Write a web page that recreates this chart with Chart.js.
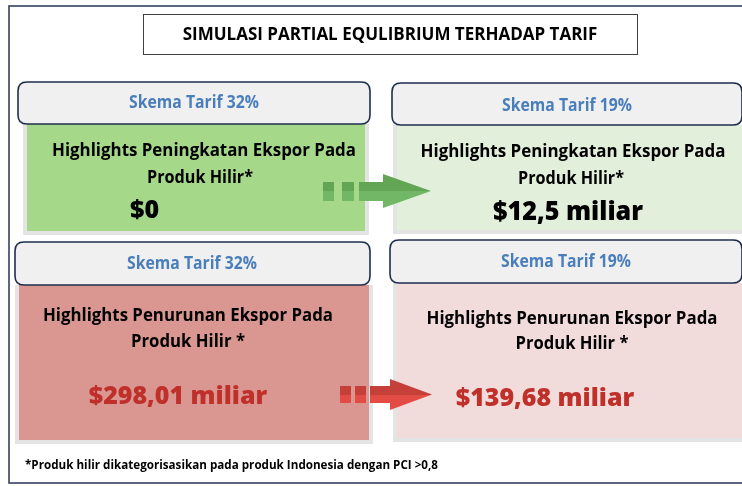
<!DOCTYPE html>
<html>
<head>
<meta charset="utf-8">
<title>Simulasi Partial Equlibrium Terhadap Tarif</title>
<script src="https://cdn.jsdelivr.net/npm/chart.js@4"></script>
<style>
  html, body { margin: 0; padding: 0; background: #ffffff; }
  canvas { display: block; }
</style>
</head>
<body>
<canvas id="chart" width="742" height="486"></canvas>
<script>
// Data
const title = 'SIMULASI PARTIAL EQULIBRIUM TERHADAP TARIF';
const schemes = ['Skema Tarif 32%', 'Skema Tarif 19%'];
const increaseLabel = ['Highlights Peningkatan Ekspor Pada', 'Produk Hilir*'];
const decreaseLabel = ['Highlights Penurunan Ekspor Pada', 'Produk Hilir *'];
const increaseValues = [0, 12.5];        // miliar USD
const decreaseValues = [298.01, 139.68]; // miliar USD
const footnote = '*Produk hilir dikategorisasikan pada produk Indonesia dengan PCI >0,8';

const FONT = '"Open Sans", "Noto Sans", sans-serif';

function formatValue(v) {
  if (v === 0) return '$0';
  return '$' + String(v).replace('.', ',') + ' miliar';
}

function text(ctx, str, x, y, size, color, maxW, align, weight) {
  ctx.font = (weight || 'bold') + ' ' + size + 'px ' + FONT;
  ctx.fillStyle = color;
  ctx.textAlign = align || 'center';
  ctx.textBaseline = 'alphabetic';
  ctx.fillText(str, x, y, maxW);
}

function roundRect(ctx, x, y, w, h, r) {
  ctx.beginPath();
  ctx.moveTo(x + r, y);
  ctx.lineTo(x + w - r, y);
  ctx.quadraticCurveTo(x + w, y, x + w, y + r);
  ctx.lineTo(x + w, y + h - r);
  ctx.quadraticCurveTo(x + w, y + h, x + w - r, y + h);
  ctx.lineTo(x + r, y + h);
  ctx.quadraticCurveTo(x, y + h, x, y + h - r);
  ctx.lineTo(x, y + r);
  ctx.quadraticCurveTo(x, y, x + r, y);
  ctx.closePath();
}

function header(ctx, label, x1, y1, x2, y2, ty, tx, tw) {
  roundRect(ctx, x1, y1, x2 - x1, y2 - y1, 9);
  ctx.fillStyle = '#f0f0f0';
  ctx.fill();
  ctx.lineWidth = 1.6;
  ctx.strokeStyle = '#1f2e4e';
  ctx.stroke();
  text(ctx, label, tx, ty, 17, '#4a7ebb', tw);
}

function panel(ctx, x1, y1, x2, y2, fill) {
  ctx.fillStyle = '#e4e4e4';
  ctx.fillRect(x1 - 4, y1, x2 - x1 + 8, y2 - y1 + 4);
  ctx.fillStyle = fill;
  ctx.fillRect(x1, y1, x2 - x1, y2 - y1);
}

function arrow(ctx, sq, shaft, head, tip, yTop, yBot, hTop, hBot, cTop, cBot) {
  const g = ctx.createLinearGradient(0, hTop, 0, hBot);
  g.addColorStop(0, cTop);
  g.addColorStop(0.5, cTop);
  g.addColorStop(0.5, cBot);
  g.addColorStop(1, cBot);
  ctx.fillStyle = g;
  sq.forEach(function(s) { ctx.fillRect(s[0], yTop, s[1] - s[0], yBot - yTop); });
  ctx.beginPath();
  ctx.moveTo(shaft, yTop);
  ctx.lineTo(head, yTop);
  ctx.lineTo(head, hTop);
  ctx.lineTo(tip, (hTop + hBot) / 2);
  ctx.lineTo(head, hBot);
  ctx.lineTo(head, yBot);
  ctx.lineTo(shaft, yBot);
  ctx.closePath();
  ctx.fill();
}

const infographic = {
  id: 'infographic',
  beforeDraw: function(chart) {
    const ctx = chart.ctx;
    ctx.save();
    ctx.fillStyle = '#ffffff';
    ctx.fillRect(0, 0, chart.width, chart.height);
    ctx.restore();
  },
  afterDraw: function(chart) {
    const ctx = chart.ctx;
    ctx.save();

    // outer frame
    ctx.lineWidth = 1.6;
    ctx.strokeStyle = '#34425f';
    ctx.strokeRect(9, 6, 780, 477);

    // title box
    ctx.lineWidth = 1;
    ctx.strokeStyle = '#404040';
    ctx.strokeRect(143.5, 14.5, 494, 40);
    text(ctx, title, 390, 40, 17, '#000000', 430, 'center', 'bold');

    // top row: increase
    panel(ctx, 27, 124, 365, 231, '#a6d88a');
    panel(ctx, 397, 125, 760, 230, '#e2efda');
    header(ctx, schemes[0], 18, 82, 370, 124, 108, 194, 130);
    header(ctx, schemes[1], 392, 83, 742, 125, 111, 567, 130);

    text(ctx, increaseLabel[0], 204, 156, 17, '#000000', 304);
    text(ctx, increaseLabel[1], 200, 183, 17, '#000000', 106);
    text(ctx, formatValue(increaseValues[0]), 130, 218, 25, '#000000', 30, 'left', '800');

    text(ctx, increaseLabel[0], 573, 157, 17, '#000000', 305);
    text(ctx, increaseLabel[1], 571, 184, 17, '#000000', 106);
    text(ctx, formatValue(increaseValues[1]), 568, 220, 26, '#000000', 150, 'center', '800');

    // bottom row: decrease
    panel(ctx, 19, 285, 369, 440, '#da9690');
    panel(ctx, 397, 283, 760, 438, '#f2dcdb');
    header(ctx, schemes[0], 15, 242, 370, 285, 269, 192, 130);
    header(ctx, schemes[1], 390, 240, 742, 283, 267, 566, 130);

    text(ctx, decreaseLabel[0], 188, 321, 17, '#000000', 290);
    text(ctx, decreaseLabel[1], 188, 347, 17, '#000000', 114);
    text(ctx, formatValue(decreaseValues[0]), 178, 404, 25, '#c0302a', 180, 'center', '800');

    text(ctx, decreaseLabel[0], 572, 324, 17, '#000000', 291);
    text(ctx, decreaseLabel[1], 572, 349, 17, '#000000', 113);
    text(ctx, formatValue(decreaseValues[1]), 545, 406, 25, '#c0302a', 181, 'center', '800');

    // arrows
    arrow(ctx, [[323, 334], [342, 354]], 359, 383, 431, 182, 201, 174, 208, '#62a655', '#72b766');
    arrow(ctx, [[340, 351], [355, 366]], 370, 390, 432, 386, 403, 379, 410, '#c6403a', '#e34b45');

    // footnote
    text(ctx, footnote, 25, 469, 12, '#000000', 413, 'left');

    ctx.restore();
  }
};

new Chart(document.getElementById('chart'), {
  type: 'bar',
  data: {
    labels: schemes,
    datasets: []
  },
  options: {
    responsive: false,
    animation: false,
    events: [],
    layout: { padding: 0 },
    plugins: { legend: { display: false }, tooltip: { enabled: false } },
    scales: { x: { display: false }, y: { display: false } }
  },
  plugins: [infographic]
});
</script>
</body>
</html>
